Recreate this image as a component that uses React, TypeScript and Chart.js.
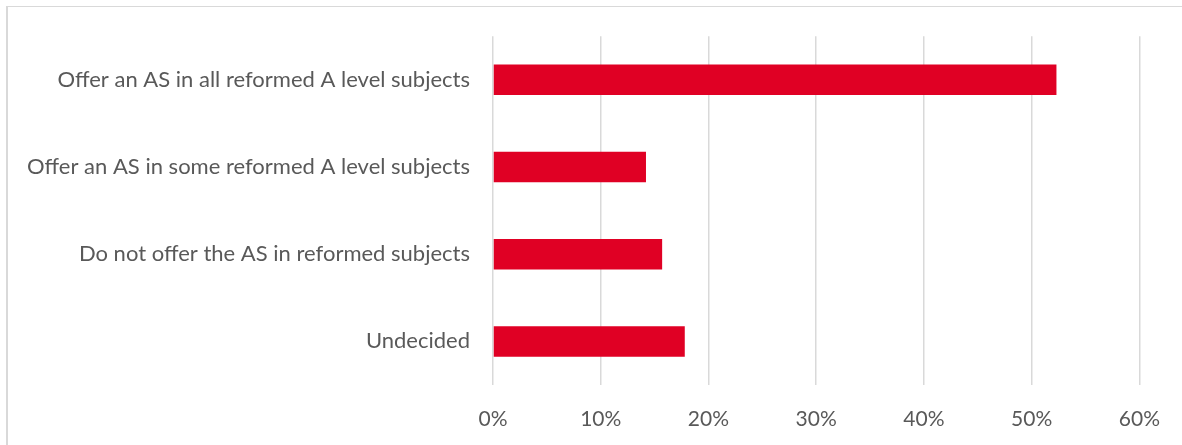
import React, { useEffect, useRef } from "react";
import { Chart, registerables } from "chart.js";

Chart.register(...registerables);

const categories = [
  "Offer an AS in all reformed A level subjects",
  "Offer an AS in some reformed A level subjects",
  "Do not offer the AS in reformed subjects",
  "Undecided",
];
const values = [52.3, 14.2, 15.7, 17.8];
const xTicks = [0, 10, 20, 30, 40, 50, 60];

export default function App() {
  const ref = useRef<HTMLCanvasElement>(null);
  useEffect(() => {
    if (!ref.current) return;
    const chart = new Chart(ref.current, {
      type: "bar",
      data: {
        labels: categories,
        datasets: [
          {
            data: values,
            backgroundColor: "#E00024",
            borderWidth: 0,
            barPercentage: 0.7,
            categoryPercentage: 0.5,
          },
        ],
      },
      options: {
        indexAxis: "y",
        animation: false,
        responsive: false,
        maintainAspectRatio: false,
        layout: { padding: { top: 35, right: 41, left: 0, bottom: 0 } },
        plugins: { legend: { display: false }, tooltip: { enabled: false } },
        scales: {
          x: {
            min: 0,
            max: 60,
            afterBuildTicks: (s: any) => {
              s.ticks = xTicks.map((v) => ({ value: v }));
            },
            afterFit: (s: any) => {
              s.height = 60;
            },
            grid: { color: "#d9d9d9", lineWidth: 1.5, drawTicks: false },
            border: { display: false },
            ticks: {
              padding: 22,
              color: "#595959",
              font: { family: "Lato", size: 21 },
              callback: (v: any) => v + "%",
            },
          },
          y: {
            afterFit: (s: any) => {
              s.width = 493;
            },
            grid: { display: false, drawTicks: false },
            border: { display: false },
            ticks: {
              padding: 23,
              color: "#595959",
              font: { family: "Lato", size: 22 },
            },
          },
        },
      },
    });
    return () => chart.destroy();
  }, []);
  return (
    <div style={{ position: "fixed", left: 0, top: 0, width: 1182, height: 445, background: "#fff" }}>
      <canvas ref={ref} width={1182} height={445} style={{ position: "absolute", left: 0, top: 0, display: "block" }} />
      <div
        style={{
          position: "absolute",
          left: 6,
          top: 6,
          width: 1182,
          height: 445,
          borderLeft: "2px solid #d9d9d9",
          borderTop: "1.5px solid #d9d9d9",
          boxSizing: "border-box",
          pointerEvents: "none",
        }}
      />
    </div>
  );
}
